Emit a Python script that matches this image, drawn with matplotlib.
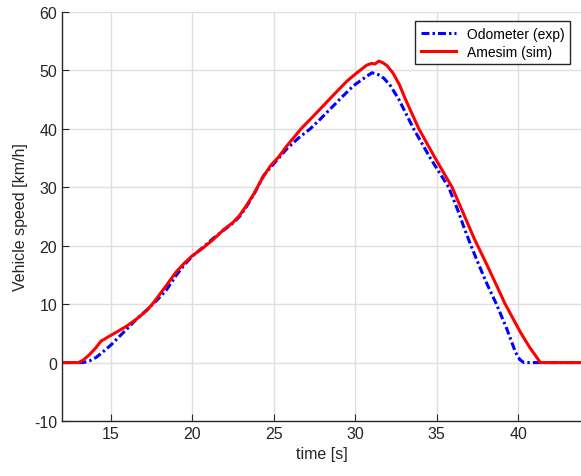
import numpy as np
import matplotlib.pyplot as plt

plt.rcParams['font.family'] = ['Liberation Sans', 'DejaVu Sans']
plt.rcParams['axes.unicode_minus'] = False

# Odometer (experimental)
t_exp = [12.0, 13.3, 13.7, 14.1, 14.5, 15.0, 15.46, 16.0, 16.6, 17.2, 17.8, 18.4,
         19.0, 19.5, 20.0, 20.6, 21.3, 21.9, 22.5, 22.9, 23.3, 23.8, 24.37, 24.8,
         25.3, 25.8, 26.5, 27.23, 27.9, 28.46, 29.2, 29.89, 30.5, 31.02, 31.4,
         31.74, 32.15, 32.66, 33.58, 34.6, 35.73, 36.3, 36.7, 37.1, 37.6, 38.09,
         38.66, 39.3, 39.83, 40.1, 40.34, 44.0]
v_exp = [0, 0, 0.3, 0.9, 1.8, 3.0, 4.3, 5.8, 7.5, 9.0, 10.6, 12.4,
         14.9, 16.7, 18.2, 19.6, 21.3, 22.6, 23.9, 25.0, 26.6, 28.9, 32.0, 33.4,
         35.0, 36.6, 38.4, 40.0, 41.8, 43.4, 45.5, 47.4, 48.6, 49.6, 49.3,
         48.7, 47.4, 45.1, 40.0, 35.0, 30.0, 26.0, 22.9, 20.0, 16.6, 13.4,
         10.0, 5.75, 1.76, 0.5, 0, 0]

# Amesim (simulation)
t_sim = [12.0, 13.0, 13.3, 13.7, 14.1, 14.4, 14.6, 14.9, 15.4, 16.0, 16.6, 17.2,
         17.6, 18.3, 19.0, 19.5, 20.0, 20.6, 21.3, 21.9, 22.5, 22.9, 23.3, 23.8,
         24.3, 24.8, 25.3, 25.8, 26.7, 27.4, 28.05, 28.8, 29.5, 30.1, 30.7, 31.0,
         31.2, 31.45, 31.7, 31.95, 32.3, 32.7, 33.07, 33.9, 34.9, 35.94,
         37.3, 38.1, 39.2, 40.13, 40.7, 41.36, 44.0]
v_sim = [0, 0, 0.4, 1.4, 2.6, 3.7, 4.0, 4.5, 5.3, 6.3, 7.5, 8.9,
         10.2, 12.8, 15.5, 17.0, 18.3, 19.5, 21.1, 22.7, 24.0, 25.2, 26.8, 29.0,
         31.6, 33.7, 35.2, 37.1, 40.1, 42.1, 44.0, 46.2, 48.2, 49.6, 50.9, 51.2,
         51.1, 51.6, 51.3, 50.8, 49.6, 47.6, 45.1, 40.0, 35.0, 30.0,
         21.2, 16.6, 10.0, 5.2, 2.6, 0, 0]

fig = plt.figure(figsize=(5.81, 4.77), dpi=100)
ax = fig.add_axes([62 / 581, 1 - 422 / 477, 1 - 62 / 581, (422 - 13) / 477])

ax.plot(t_exp, v_exp, color='blue', lw=2.2, linestyle=(0, (2.6, 1.0, 0.8, 1.0)),
        label='Odometer (exp)')
ax.plot(t_sim, v_sim, color='red', lw=2.2, label='Amesim (sim)')

ax.set_xlim(12, 43.85)
ax.set_ylim(-10, 60)
ax.set_xticks([15, 20, 25, 30, 35, 40])
ax.set_yticks(np.arange(-10, 61, 10))
ax.grid(True, color='#dfdfdf', lw=1)
ax.set_axisbelow(True)
for s in ['top', 'right']:
    ax.spines[s].set_visible(False)
for s in ['left', 'bottom']:
    ax.spines[s].set_color('#262626')
    ax.spines[s].set_linewidth(1)
ax.tick_params(direction='in', length=5, colors='#262626', labelsize=11.5)

ax.set_xlabel('time [s]', fontsize=11.5, color='#262626')
ax.set_ylabel('Vehicle speed [km/h]', fontsize=11.5, color='#262626')

leg = ax.legend(loc='upper right', bbox_to_anchor=(0.992, 0.995), fontsize=10,
                fancybox=False, framealpha=1, edgecolor='#262626',
                handlelength=2.5, borderpad=0.4, labelspacing=0.3)
leg.get_frame().set_linewidth(1)

fig.savefig('out.png', dpi=100)
